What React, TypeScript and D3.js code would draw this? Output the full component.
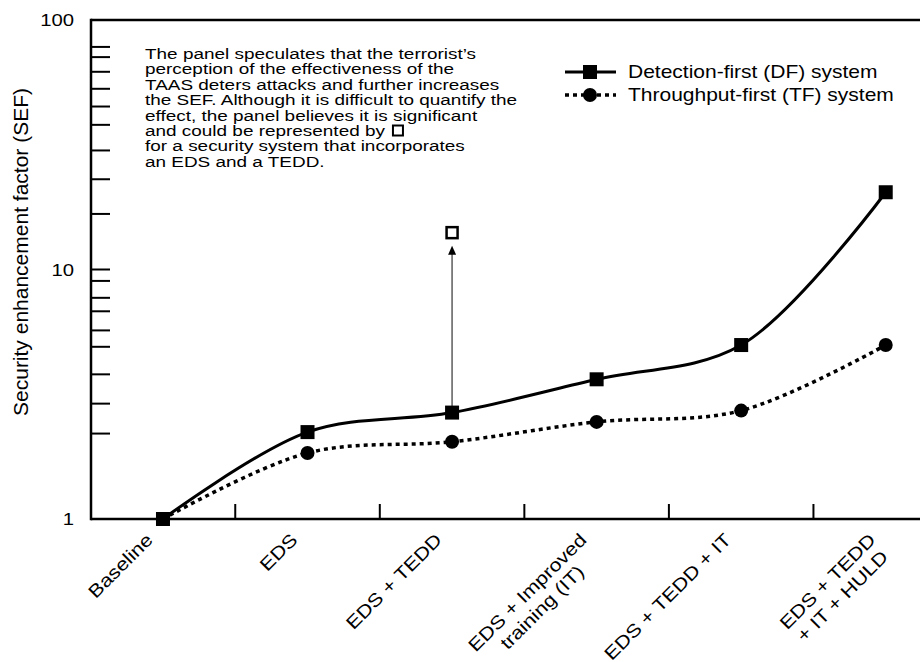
import React, { useEffect, useRef } from "react";
import * as d3 from "d3";

const categories = [
  "Baseline",
  "EDS",
  "EDS + TEDD",
  "EDS + Improved training (IT)",
  "EDS + TEDD + IT",
  "EDS + TEDD + IT + HULD",
];
const categoryLines = [
  ["Baseline"],
  ["EDS"],
  ["EDS + TEDD"],
  ["EDS + Improved", "training (IT)"],
  ["EDS + TEDD + IT"],
  ["EDS + TEDD", "+ IT + HULD"],
];
const dfValues = [1, 2.23, 2.67, 3.63, 4.98, 20.4];
const tfValues = [1, 1.84, 2.04, 2.45, 2.72, 4.98];
const deterrenceCategory = "EDS + TEDD";
const deterrenceValue = 14.05;

const yMajorTicks = [1, 10, 100];
const yMinorTicks = [2.2, 2.9, 3.8, 4.9, 5.7, 6.8, 7.7, 9.0, 16.7, 23, 30, 38, 45, 53, 62, 71, 78];

const seriesNames = ["Detection-first (DF) system", "Throughput-first (TF) system"];
const yTitle = "Security enhancement factor (SEF)";
const noteLines = [
  "The panel speculates that the terrorist\u2019s",
  "perception of the effectiveness of the",
  "TAAS deters attacks and further increases",
  "the SEF. Although it is difficult to quantify the",
  "effect, the panel believes it is significant",
  "and could be represented by",
  "for a security system that incorporates",
  "an EDS and a TEDD.",
];

const FONT = "'Liberation Sans', Arial, Helvetica, sans-serif";
const SX = 1.18; // horizontal stretch of the lettering

export default function App() {
  const ref = useRef<SVGSVGElement>(null);

  useEffect(() => {
    const svg = d3.select(ref.current);
    svg.selectAll("*").remove();
    svg.attr("font-family", FONT);

    const left = 91, top = 20, bottom = 519;
    const x = d3.scaleBand<string>().domain(categories).range([90.7, 958]).padding(0);
    const cx = (c: string) => (x(c) as number) + x.bandwidth() / 2;
    const y = d3.scaleLog().domain([1, 100]).range([bottom, top]);

    const stretched = (parent: any, px: number, py: number, size: number, txt: string, anchor = "start", sx = SX) => {
      const gg = parent.append("g").attr("transform", `translate(${px},${py}) scale(${sx},1)`);
      return gg.append("text").attr("x", 0).attr("y", 0).attr("text-anchor", anchor)
        .attr("font-size", size).text(txt);
    };

    // axes frame
    const g = svg.append("g");
    g.append("line").attr("x1", left).attr("x2", 920).attr("y1", top).attr("y2", top)
      .attr("stroke", "#000").attr("stroke-width", 2.5);
    g.append("line").attr("x1", left).attr("x2", 920).attr("y1", bottom).attr("y2", bottom)
      .attr("stroke", "#000").attr("stroke-width", 2.5);
    g.append("line").attr("x1", left).attr("x2", left).attr("y1", top - 1.2).attr("y2", bottom + 1.2)
      .attr("stroke", "#000").attr("stroke-width", 2.5);

    // y ticks
    const yTickVals = [...yMinorTicks, 10];
    g.selectAll(".ytick").data(yTickVals).join("line")
      .attr("x1", left).attr("x2", left + 19)
      .attr("y1", (d) => y(d)).attr("y2", (d) => y(d))
      .attr("stroke", "#000").attr("stroke-width", 2);
    yMajorTicks.forEach((d) => {
      stretched(g, 74, y(d) + 6.2, 17.2, String(d), "end");
    });

    // x ticks at band boundaries
    g.selectAll(".xtick").data(categories.slice(1)).join("line")
      .attr("x1", (d) => x(d) as number).attr("x2", (d) => x(d) as number)
      .attr("y1", bottom).attr("y2", bottom - 15)
      .attr("stroke", "#000").attr("stroke-width", 2);

    // y title
    svg.append("text")
      .attr("transform", `translate(28.3, 252) rotate(-90)`)
      .attr("text-anchor", "middle").attr("font-size", 21).text(yTitle);

    // x labels
    categoryLines.forEach((lines, i) => {
      const c = categories[i];
      const lg = svg.append("g").attr("transform", `translate(${cx(c) - 9}, 541) rotate(-45) scale(${SX},1)`);
      const texts = lines.map((t, j) =>
        lg.append("text").attr("x", 0).attr("y", j * 21).attr("text-anchor", "end")
          .attr("font-size", 18.2).text(t)
      );
      const widths = texts.map((t) => (t.node() as SVGTextElement).getComputedTextLength());
      const W = Math.max(...widths);
      texts.forEach((t, j) => t.attr("x", -(W - widths[j]) / 2));
    });

    // lines
    const pts = (vals: number[]) => vals.map((v, i) => [cx(categories[i]), y(v)] as [number, number]);
    const line = d3.line().curve(d3.curveCatmullRom.alpha(0.5));
    svg.append("path").attr("d", line(pts(tfValues))).attr("fill", "none")
      .attr("stroke", "#000").attr("stroke-width", 3.5).attr("stroke-dasharray", "4,4");
    svg.append("path").attr("d", line(pts(dfValues))).attr("fill", "none")
      .attr("stroke", "#000").attr("stroke-width", 3);

    // arrow
    const ax = cx(deterrenceCategory);
    const dfAt = dfValues[categories.indexOf(deterrenceCategory)];
    const tipY = y(deterrenceValue) + 13;
    svg.append("line").attr("x1", ax).attr("x2", ax).attr("y1", y(dfAt) - 6).attr("y2", tipY + 8)
      .attr("stroke", "#666").attr("stroke-width", 1.6);
    svg.append("path").attr("d", `M${ax},${tipY} L${ax - 4},${tipY + 9} L${ax + 4},${tipY + 9} Z`)
      .attr("fill", "#000");
    svg.append("rect").attr("x", ax - 5.5).attr("y", y(deterrenceValue) - 5.5)
      .attr("width", 11).attr("height", 11).attr("fill", "#fff").attr("stroke", "#000").attr("stroke-width", 2.5);

    // markers
    svg.selectAll(".circ").data(tfValues).join("circle")
      .attr("cx", (d, i) => cx(categories[i])).attr("cy", (d) => y(d)).attr("r", 7).attr("fill", "#000");
    svg.selectAll(".sq").data(dfValues).join("rect")
      .attr("x", (d, i) => cx(categories[i]) - 7).attr("y", (d) => y(d) - 7)
      .attr("width", 14).attr("height", 14).attr("fill", "#000");

    // legend
    const lgd = svg.append("g");
    lgd.append("line").attr("x1", 565).attr("x2", 616).attr("y1", 72).attr("y2", 72)
      .attr("stroke", "#000").attr("stroke-width", 3);
    lgd.append("rect").attr("x", 583).attr("y", 65).attr("width", 14).attr("height", 14).attr("fill", "#000");
    lgd.append("line").attr("x1", 565).attr("x2", 616).attr("y1", 95).attr("y2", 95)
      .attr("stroke", "#000").attr("stroke-width", 3.5).attr("stroke-dasharray", "4,4");
    lgd.append("circle").attr("cx", 590).attr("cy", 95).attr("r", 7).attr("fill", "#000");
    seriesNames.forEach((n, i) => {
      stretched(lgd, 628, 72 + i * 23 + 6.3, 17.5, n, "start", 1.2);
    });

    // note
    const note = svg.append("g");
    const NSX = 1.23;
    noteLines.forEach((t, i) => {
      const by = 59 + i * 15.4;
      const tx = stretched(note, 145, by, 15.4, t, "start", NSX);
      if (i === 5) {
        const w = (tx.node() as SVGTextElement).getComputedTextLength() * NSX;
        note.append("rect").attr("x", 145 + w + 8).attr("y", by - 10.5)
          .attr("width", 10).attr("height", 10).attr("fill", "#fff")
          .attr("stroke", "#000").attr("stroke-width", 2);
      }
    });
  }, []);

  return (
    <svg
      ref={ref}
      width={920}
      height={662}
      style={{ position: "absolute", left: 0, top: 0, background: "#fff" }}
    />
  );
}
